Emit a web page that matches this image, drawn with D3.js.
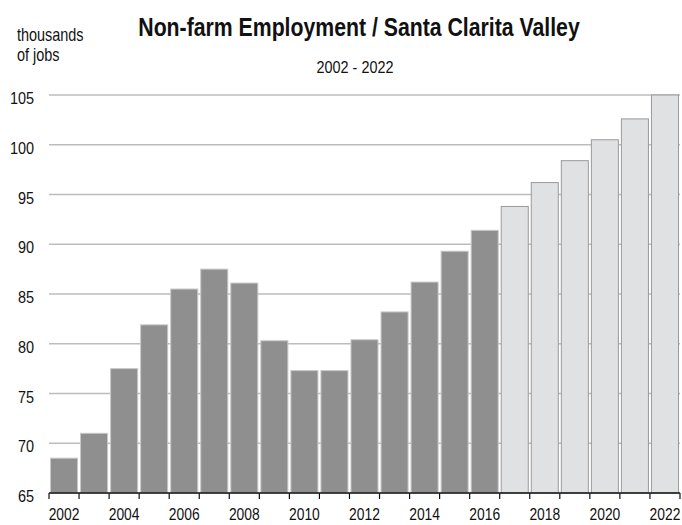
<!DOCTYPE html>
<html><head><meta charset="utf-8">
<script src="https://cdn.jsdelivr.net/npm/d3@7"></script>
<style>
body{margin:0;background:#fff;}
text{font-family:"Liberation Sans Narrow","Liberation Sans",Arial,sans-serif;fill:#111;}
</style></head>
<body><svg id="c" width="682" height="525"></svg>
<script>
const years = ["2002","2003","2004","2005","2006","2007","2008","2009","2010","2011","2012","2013","2014","2015","2016","2017","2018","2019","2020","2021","2022"];
const jobs = [68.5,71.0,77.5,81.9,85.5,87.5,86.1,80.3,77.3,77.3,80.4,83.2,86.2,89.3,91.4,93.8,96.2,98.4,100.5,102.6,105.0];
const forecastFrom = "2017";
const yTicks = [65,70,75,80,85,90,95,100,105];
const xLabels = ["2002","2004","2006","2008","2010","2012","2014","2016","2018","2020","2022"];

const svg = d3.select("#c");
const mLeft = 49, mRight = 680, mTop = 95, mBottom = 493;
const x = d3.scaleBand().domain(years).range([mLeft, mRight]).paddingInner(0).paddingOuter(0);
const y = d3.scaleLinear().domain([65,105]).range([mBottom, mTop]);

// condense text horizontally around its anchor point
function squeeze(sel, f){
  sel.each(function(){
    const t = d3.select(this);
    const tx = +t.attr("x") || 0, ty = +t.attr("y") || 0;
    t.attr("x", 0).attr("y", 0).attr("transform", `translate(${tx},${ty}) scale(${f},1)`);
  });
}

// gridlines
svg.append("g").selectAll("line").data(yTicks.filter(d=>d>65)).join("line")
  .attr("x1", mLeft).attr("x2", mRight).attr("y1", d=>y(d)).attr("y2", d=>y(d))
  .attr("stroke", "#bdbdbd").attr("stroke-width", 1.5);

// y labels
svg.append("g").selectAll("text").data(yTicks).join("text")
  .attr("x", 34).attr("y", d=>y(d)+9).attr("text-anchor","end")
  .attr("font-size", 17).text(d=>d).call(squeeze, 0.85);

// bars
const fi = years.indexOf(forecastFrom);
svg.append("g").selectAll("rect").data(years).join("rect")
  .attr("x", d=>x(d)+1.5).attr("width", x.bandwidth()-3)
  .attr("y", (d,i)=>y(jobs[i])).attr("height", (d,i)=>mBottom - y(jobs[i]))
  .attr("fill", (d,i)=> i>=fi ? "#dfe1e2" : "#8f8f8f")
  .attr("stroke", (d,i)=> i>=fi ? "#9a9a9a" : "#c8c8c8")
  .attr("stroke-width", 1);

// x axis
const xa = svg.append("g");
xa.append("line").attr("x1", mLeft).attr("x2", mRight).attr("y1", mBottom).attr("y2", mBottom)
  .attr("stroke", "#111").attr("stroke-width", 1.5);
const bounds = years.map(d=>x(d)).concat([mRight]);
xa.selectAll("line.tk").data(bounds).join("line").attr("class","tk")
  .attr("x1", d=>d).attr("x2", d=>d).attr("y1", mBottom).attr("y2", mBottom+6)
  .attr("stroke", "#111").attr("stroke-width", 1.2);
xa.selectAll("text").data(xLabels).join("text")
  .attr("x", d=> x(d)+x.bandwidth()/2)
  .attr("y", 520)
  .attr("text-anchor", "middle")
  .attr("font-size", 16.5).text(d=>d).call(squeeze, 0.84);

// titles
svg.append("text").attr("x", 359).attr("y", 36).attr("text-anchor","middle")
  .attr("font-size", 25).attr("font-weight","bold").text("Non-farm Employment / Santa Clarita Valley").call(squeeze, 0.85);
svg.append("text").attr("x", 355).attr("y", 72.5).attr("text-anchor","middle")
  .attr("font-size", 16).text("2002 - 2022").call(squeeze, 0.9);
svg.append("text").attr("x", 17).attr("y", 41).attr("font-size", 18.5).text("thousands").call(squeeze, 0.78);
svg.append("text").attr("x", 17).attr("y", 61).attr("font-size", 18.5).text("of jobs").call(squeeze, 0.78);
</script></body></html>
